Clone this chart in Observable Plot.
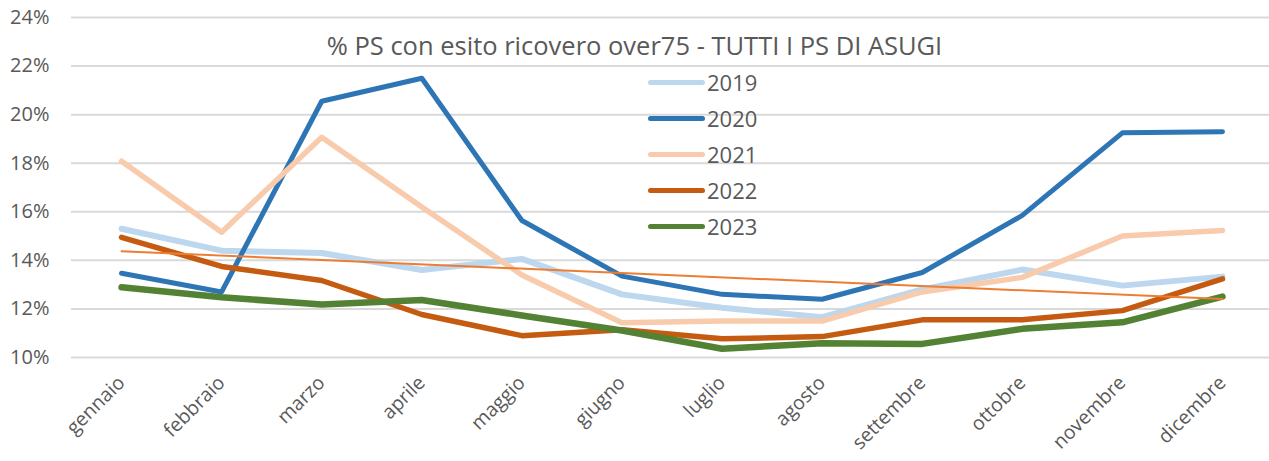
<!DOCTYPE html>
<html><head><meta charset="utf-8">
<script src="https://cdn.jsdelivr.net/npm/d3@7"></script>
<script src="https://cdn.jsdelivr.net/npm/@observablehq/plot@0.6"></script>
<style>
body{margin:0;background:#fff;font-family:"Open Sans",sans-serif;}
#wrap{position:relative;width:1269px;height:461px;overflow:hidden;}
#title{position:absolute;left:0;width:1269px;top:29px;text-align:center;font-size:25.5px;color:#595959;line-height:32px;white-space:nowrap;}
#legend{position:absolute;left:648px;top:64px;}
.row{height:36px;display:flex;align-items:center;font-size:22px;color:#595959;}
.sw{width:57px;height:5px;border-radius:3px;margin-right:2px;}
</style></head><body><div id="wrap"><div id="chart"></div><div id="title"></div><div id="legend"></div></div>
<script>
const titleText = "% PS con esito ricovero over75 - TUTTI I PS DI ASUGI";
const months = ["gennaio","febbraio","marzo","aprile","maggio","giugno","luglio","agosto","settembre","ottobre","novembre","dicembre"];
const years = ["2019","2020","2021","2022","2023"];
const v2019 = [15.3,14.4,14.3,13.6,14.06,12.6,12.05,11.66,12.8,13.62,12.96,13.33];
const v2020 = [13.47,12.7,20.55,21.5,15.64,13.35,12.6,12.4,13.5,15.85,19.25,19.3];
const v2021 = [18.08,15.16,19.07,16.2,13.4,11.43,11.5,11.5,12.7,13.3,15.0,15.23];
const v2022 = [14.95,13.75,13.17,11.77,10.9,11.14,10.77,10.86,11.55,11.55,11.93,13.24];
const v2023 = [12.89,12.48,12.18,12.37,11.73,11.11,10.36,10.59,10.56,11.18,11.45,12.51];
const yTicks = [10,12,14,16,18,20,22,24];
const colors = ["#BDD7EE","#2E75B6","#F8CBAD","#C55A11","#548235"];
const trendColor = "#ED7D31";
const widths = [6,5,5.5,5.5,6.5];

const series = {"2019":v2019,"2020":v2020,"2021":v2021,"2022":v2022,"2023":v2023};
const data = years.flatMap(y => series[y].map((v,i)=>({year:y, m:i, v})));
const trendData = v2019.map((v,i)=>({m:i, v}));

const chart = Plot.plot({
  width:1269, height:461, marginLeft:71, marginRight:0, marginTop:17, marginBottom:104,
  style:{fontFamily:"Open Sans, sans-serif", color:"#595959", background:"#fff", overflow:"visible"},
  x:{type:"linear", domain:[-0.5, 11.47]},
  y:{domain:[10,24]},
  marks:[
    Plot.gridY(yTicks, {stroke:"#d9d9d9", strokeOpacity:1, strokeWidth:2}),
    Plot.axisY({ticks:yTicks, tickFormat:d=>d+"%", tickSize:0, tickPadding:22, fontSize:20, label:null}),
    Plot.axisX({ticks:months.map((_,i)=>i), tickFormat:i=>months[i], tickRotate:-45, tickSize:0, tickPadding:22, fontSize:19.5, label:null}),
    ...years.map((y,k)=>Plot.line(data.filter(d=>d.year===y), {x:"m", y:"v", stroke:colors[k], strokeWidth:widths[k], strokeLinejoin:"round", strokeLinecap:"round"})),
    Plot.linearRegressionY(trendData, {x:"m", y:"v", stroke:trendColor, strokeWidth:2, ci:0})
  ]
});
document.getElementById("chart").appendChild(chart);
document.getElementById("title").textContent = titleText;
const leg = document.getElementById("legend");
years.forEach((y,k)=>{
  const row = document.createElement("div"); row.className="row";
  const sw = document.createElement("div"); sw.className="sw"; sw.style.background=colors[k];
  const t = document.createElement("span"); t.textContent=y;
  row.appendChild(sw); row.appendChild(t); leg.appendChild(row);
});
</script></body></html>
